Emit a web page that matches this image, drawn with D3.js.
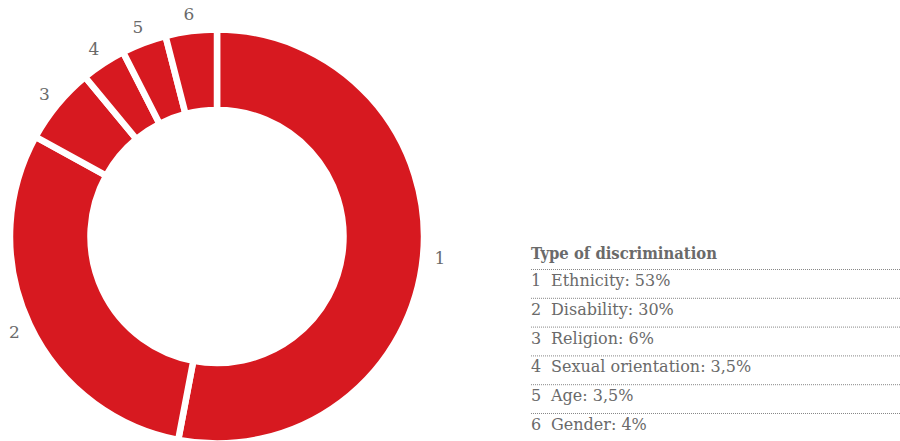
<!DOCTYPE html>
<html>
<head>
<meta charset="utf-8">
<script src="https://cdn.jsdelivr.net/npm/d3@7"></script>
<style>
  body { margin: 0; background: #fff; }
  text { font-family: "DejaVu Serif", "Liberation Serif", serif; fill: #6a6a6a; }
</style>
</head>
<body>
<script>
var ids = ["1", "2", "3", "4", "5", "6"];
var names = ["Ethnicity", "Disability", "Religion", "Sexual orientation", "Age", "Gender"];
var values = [53, 30, 6, 3.5, 3.5, 4];
var valueLabels = ["53%", "30%", "6%", "3,5%", "3,5%", "4%"];
var legendTitle = "Type of discrimination";

var width = 900,
    height = 441,
    cx = 217,
    cy = 236.5,
    outer = 207,
    inner = 126.5;

var data = ids.map(function(id, i) {
    return {id: id, name: names[i], value: values[i], label: valueLabels[i]};
});

var svg = d3.select("body").append("svg")
    .attr("width", width)
    .attr("height", height);

var g = svg.append("g")
    .attr("transform", "translate(" + cx + "," + cy + ")");

var pie = d3.pie()
    .value(function(d) { return d.value; })
    .sort(null);

var arc = d3.arc()
    .innerRadius(inner)
    .outerRadius(outer);

var labelArc = d3.arc()
    .innerRadius(224)
    .outerRadius(224);

// faint outline round the ring
g.append("circle")
    .attr("r", outer - 0.5)
    .attr("fill", "none")
    .attr("stroke", "#f4c9cc")
    .attr("stroke-width", 0.8);

g.selectAll("path")
    .data(pie(data))
    .enter().append("path")
    .attr("d", arc)
    .attr("fill", "#d71920")
    .attr("stroke", "#fff")
    .attr("stroke-width", 6.5)
    .attr("stroke-linejoin", "miter");

g.selectAll("text.num")
    .data(pie(data))
    .enter().append("text")
    .attr("class", "num")
    .attr("transform", function(d) { return "translate(" + labelArc.centroid(d) + ")"; })
    .attr("text-anchor", "middle")
    .attr("dy", "0.35em")
    .attr("font-size", 17)
    .text(function(d) { return d.data.id; });

// legend
var lx = 531,
    rowH = 28.8;

var legend = svg.append("g");

legend.append("text")
    .attr("x", lx)
    .attr("y", 259)
    .attr("font-size", 16)
    .attr("font-weight", "bold")
    .attr("fill", "#666")
    .attr("textLength", 186)
    .attr("lengthAdjust", "spacingAndGlyphs")
    .text(legendTitle);

var rows = legend.selectAll("g.row")
    .data(data)
    .enter().append("g")
    .attr("class", "row")
    .attr("transform", function(d, i) { return "translate(0," + (269 + i * rowH) + ")"; });

rows.append("line")
    .attr("x1", lx)
    .attr("x2", width)
    .attr("y1", 0.5)
    .attr("y2", 0.5)
    .attr("stroke", "#888")
    .attr("stroke-width", 1)
    .attr("stroke-dasharray", "1,1");

rows.append("text")
    .attr("x", lx)
    .attr("y", 17)
    .attr("font-size", 16)
    .text(function(d) { return d.id; });

rows.append("text")
    .attr("x", lx + 20)
    .attr("y", 17)
    .attr("font-size", 16)
    .text(function(d) { return d.name + ": " + d.label; });
</script>
</body>
</html>
